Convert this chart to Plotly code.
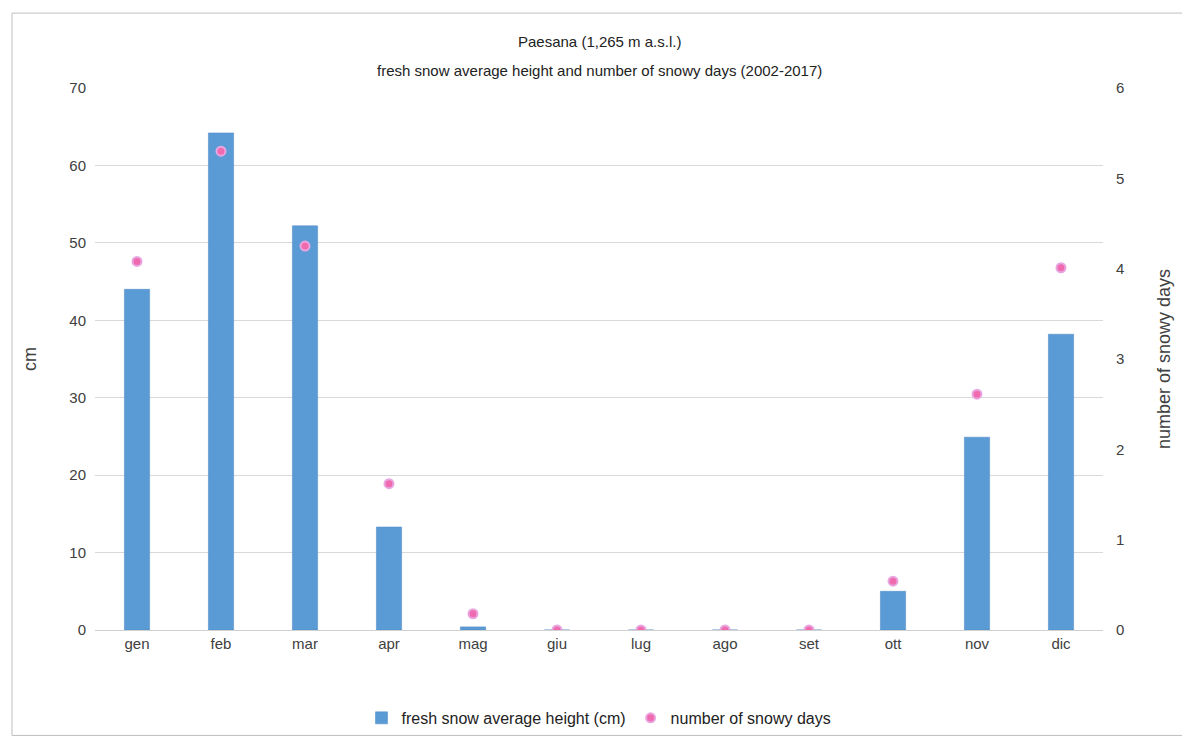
import plotly.graph_objects as go

months = ["gen", "feb", "mar", "apr", "mag", "giu", "lug", "ago", "set", "ott", "nov", "dic"]
snow_cm = [44.0, 64.2, 52.2, 13.3, 0.4, 0, 0, 0, 0, 5.0, 24.9, 38.2]
snowy_days = [4.08, 5.30, 4.25, 1.62, 0.18, 0, 0, 0, 0, 0.54, 2.61, 4.01]

font = "Liberation Sans"
L, R, T, B = 87, 95, 80, 109
fig = go.Figure()
fig.add_trace(go.Bar(x=months, y=snow_cm, name="fresh snow average height (cm)",
                     marker=dict(color="#5b9bd5", line=dict(color="#4a86c5", width=0.5)),
                     width=0.3))
fig.add_trace(go.Scatter(x=months, y=snowy_days, name="number of snowy days", yaxis="y2",
                         mode="markers",
                         marker=dict(color="#f06ab0", size=9, line=dict(color="#e8a6e0", width=2))))

pw = 1190 - L - R
ph = 739 - T - B
fig.update_layout(
    width=1190, height=739,
    paper_bgcolor="white", plot_bgcolor="white",
    margin=dict(l=L, r=R, t=T, b=B),
    font=dict(family=font, size=15, color="#404040"),
    xaxis=dict(showgrid=False, showline=True, linecolor="#d0d0d0", ticks="", automargin=False,
               range=[-0.5, 11.5]),
    yaxis=dict(range=[0, 70], dtick=10, gridcolor="#d9d9d9", zeroline=False, automargin=False,
               ticklabelstandoff=8, title=dict(text="cm", standoff=28)),
    yaxis2=dict(range=[0, 6], dtick=1, overlaying="y", side="right", showgrid=False,
                zeroline=False, automargin=False, ticklabelstandoff=12,
                title=dict(text="number of snowy days", standoff=34)),
    legend=dict(orientation="h", x=0.5, xanchor="center", y=-72 / ph, yanchor="top",
                bgcolor="rgba(0,0,0,0)", font=dict(size=16, color="#222")),
    annotations=[
        dict(text="Paesana (1,265 m a.s.l.)", x=0.5, y=1 + 58 / ph, xref="paper", yref="paper",
             showarrow=False, font=dict(size=15, color="#222")),
        dict(text="fresh snow average height and number of snowy days (2002-2017)", x=0.5,
             y=1 + 28 / ph, xref="paper", yref="paper", showarrow=False,
             font=dict(size=15, color="#222")),
    ],
)
fig.add_shape(type="rect", xref="paper", yref="paper",
              x0=-(L - 4) / pw, x1=1 + (R - 4) / pw, y0=-(B - 2) / ph, y1=1 + (T - 4) / ph,
              line=dict(color="#bfbfbf", width=1))
fig.write_html("out.html")
